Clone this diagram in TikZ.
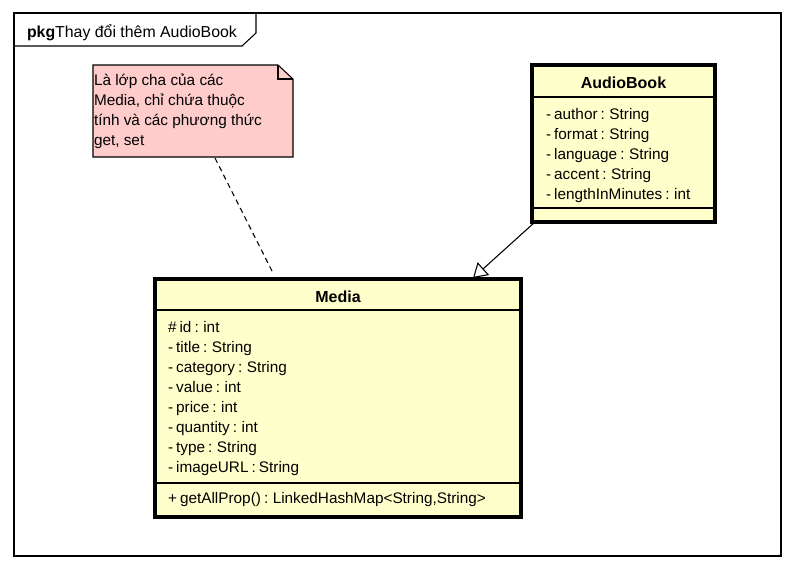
\documentclass[tikz,border=0pt]{standalone}
\usepackage{fontspec}
\setmainfont{Liberation Sans}
\usetikzlibrary{arrows.meta}
\definecolor{classfill}{RGB}{255,255,204}
\definecolor{notefill}{RGB}{255,204,204}
\newcommand\mytightspaces{\fontsize{11.5}{14}\selectfont\spaceskip=2.3pt\relax}
\begin{document}
\begin{tikzpicture}[x=0.75pt,y=-0.75pt,
  every node/.style={inner sep=0pt,outer sep=0pt,font=\fontsize{11.5}{14}\selectfont},
  classbox/.style={draw=black,line width=2.3pt,fill=classfill,anchor=north west},
  txt/.style={anchor=west,text height=8.3pt,text depth=2.4pt,yshift=-1.8pt},
  mtxt/.style={txt,font=\mytightspaces},
  ttl/.style={font=\fontsize{12}{14}\selectfont\bfseries,text height=8.7pt,text depth=2.4pt,yshift=-1.6pt},
  thin/.style={line width=0.8pt},
]
\useasboundingbox (0,0) rectangle (794,569);
% package frame
\draw[thin] (14,13) rectangle (781,556);
\draw[thin] (14,46) -- (242,46) -- (256,33) -- (256,13);
\node[txt,font=\fontsize{11.9}{14}\selectfont] (pkg) at (27,31) {\textbf{pkg}Thay đổi thêm AudioBook};
% note
\draw[thin,fill=notefill] (93,65) -- (278,65) -- (293,79) -- (293,157) -- (93,157) -- cycle;
\draw[thin] (278,65) -- (278,79) -- (293,79);
\node[txt] (n1) at (94,79) {Là lớp cha của các};
\node[txt] (n2) at (94,99) {Media, chỉ chứa thuộc};
\node[txt] (n3) at (94,119) {tính và các phương thức};
\node[txt] (n4) at (94,139) {get, set};
\coordinate (noteanchor) at (215,158);
\coordinate (mediaanchor) at (273,273);
\draw[thin,dashed,dash pattern=on 4pt off 3pt] (noteanchor) -- (mediaanchor);
% AudioBook
\node[classbox,minimum width=183*0.75pt,minimum height=157*0.75pt] (audio) at (532,65) {};
\draw[thin] (532,97) -- (715,97);
\draw[thin] (532,208) -- (715,208);
\node[ttl] (audiot) at (623.5,82) {AudioBook};
\node[mtxt] (a1) at (546,113) {- author : String};
\node[mtxt] (a2) at (546,133) {- format : String};
\node[mtxt] (a3) at (546,153) {- language : String};
\node[mtxt] (a4) at (546,173) {- accent : String};
\node[mtxt] (a5) at (546,193) {- lengthInMinutes : int};
% Media
\node[classbox,minimum width=366*0.75pt,minimum height=238*0.75pt] (media) at (155,279) {};
\draw[thin] (155,310) -- (521,310);
\draw[thin] (155,483) -- (521,483);
\node[ttl] (mediat) at (338,296) {Media};
\node[mtxt] (m1) at (168,326) {\# id : int};
\node[mtxt] (m2) at (168,346) {- title : String};
\node[mtxt] (m3) at (168,366) {- category : String};
\node[mtxt] (m4) at (168,386) {- value : int};
\node[mtxt] (m5) at (168,406) {- price : int};
\node[mtxt] (m6) at (168,426) {- quantity : int};
\node[mtxt] (m7) at (168,446) {- type : String};
\node[mtxt] (m8) at (168,466) {- imageURL : String};
\node[mtxt] (op1) at (168,497) {+ getAllProp() : LinkedHashMap<String,String>};
% generalization
\coordinate (genfrom) at (535,222);
\coordinate (gento) at (473,278);
\draw[thin,-{Triangle[open,length=14*0.75pt,width=17*0.75pt]}] (genfrom) -- (gento);
\end{tikzpicture}
\end{document}
